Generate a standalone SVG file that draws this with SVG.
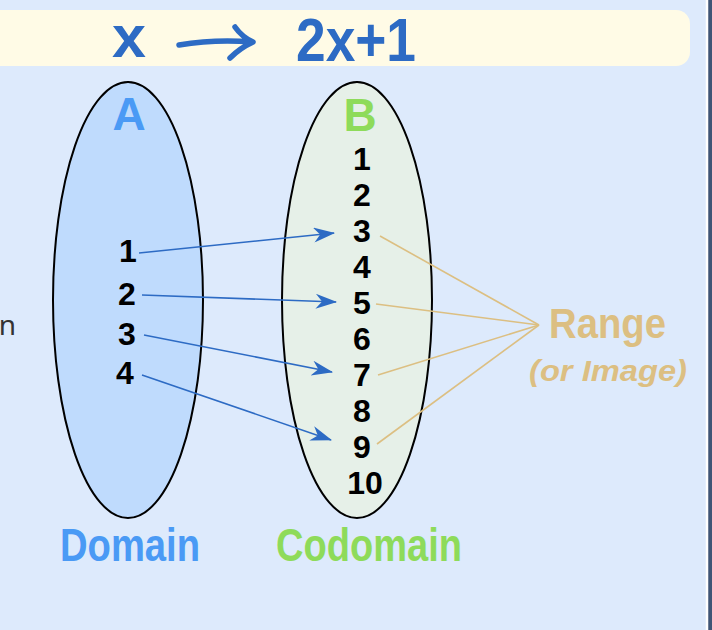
<svg xmlns="http://www.w3.org/2000/svg" width="712" height="630" viewBox="0 0 712 630">
<defs>
<style>
.t{font-family:"Liberation Sans","Noto Sans",sans-serif;font-weight:bold;}
.num{font-family:"Liberation Sans","Noto Sans",sans-serif;font-weight:bold;font-size:32px;fill:#000;text-anchor:middle;}
.arr{stroke:#2d6bc4;stroke-width:1.6;fill:none;marker-end:url(#ah);}
.rng{stroke:#dcbf82;stroke-width:1.6;fill:none;}
</style>
<marker id="ah" viewBox="0 0 20 14" refX="19" refY="7" markerWidth="22" markerHeight="15" markerUnits="userSpaceOnUse" orient="auto">
<path d="M0,0 L20,7 L0,14 L6,7 Z" fill="#2d6bc4"/>
</marker>
</defs>
<rect x="0" y="0" width="712" height="630" fill="#3f5576"/>
<rect x="-20" y="-12" width="727" height="660" rx="12" fill="#ddeafc" stroke="#ffffff" stroke-width="2.5"/>
<g id="banner">
<rect x="-20" y="10" width="710" height="56" rx="14" fill="#fffbe6"/>
<text class="t" x="112" y="57" font-size="60" fill="#2d6bc4" textLength="34" lengthAdjust="spacingAndGlyphs">x</text>
<path d="M179,45 Q215,39 252,42 M235,27 Q242,37 253,42 Q240,48 230,58" stroke="#2d6bc4" stroke-width="5.5" fill="none" stroke-linecap="round" stroke-linejoin="round"/>
<text class="t" x="296" y="61" font-size="62" fill="#2d6bc4" textLength="120" lengthAdjust="spacingAndGlyphs">2x+1</text>
</g>
<text x="16" y="335" font-family="'Noto Sans','DejaVu Sans',sans-serif" font-size="28" fill="#333" text-anchor="end">n</text>
<g id="setA">
<ellipse cx="128" cy="300" rx="75" ry="218" fill="#bfdbfd" stroke="#000" stroke-width="2"/>
<text class="t" x="129" y="130" font-size="46" fill="#4a9af5" text-anchor="middle">A</text>
<text class="num" x="128" y="262">1</text>
<text class="num" x="127" y="305">2</text>
<text class="num" x="127" y="345">3</text>
<text class="num" x="125" y="384">4</text>
</g>
<g id="setB">
<ellipse cx="357" cy="300" rx="75" ry="218" fill="#e6f0e8" stroke="#000" stroke-width="2"/>
<text class="t" x="360" y="131" font-size="46" fill="#8edb5a" text-anchor="middle">B</text>
<text class="num" x="362" y="170">1</text>
<text class="num" x="362" y="206">2</text>
<text class="num" x="362" y="242">3</text>
<text class="num" x="362" y="278">4</text>
<text class="num" x="362" y="314">5</text>
<text class="num" x="362" y="350">6</text>
<text class="num" x="362" y="386">7</text>
<text class="num" x="362" y="422">8</text>
<text class="num" x="362" y="458">9</text>
<text class="num" x="365" y="494">10</text>
</g>
<g id="connectors">
<line class="arr" x1="139" y1="253" x2="334" y2="233"/>
<line class="arr" x1="142" y1="295" x2="336" y2="302"/>
<line class="arr" x1="144" y1="335" x2="332" y2="372"/>
<line class="arr" x1="142" y1="375" x2="331" y2="440"/>
<line class="rng" x1="539" y1="325" x2="380" y2="236"/>
<line class="rng" x1="539" y1="325" x2="376" y2="304"/>
<line class="rng" x1="539" y1="325" x2="378" y2="375"/>
<line class="rng" x1="539" y1="325" x2="377" y2="444"/>
</g>
<g id="range">
<text class="t" x="549" y="338" font-size="42" fill="#dcbf82" textLength="117" lengthAdjust="spacingAndGlyphs">Range</text>
<text class="t" x="529" y="381" font-size="29" font-style="italic" fill="#dcbf82" textLength="158" lengthAdjust="spacingAndGlyphs">(or Image)</text>
</g>
<g id="labels">
<text class="t" x="60" y="561" font-size="46" fill="#4a9af5" textLength="140" lengthAdjust="spacingAndGlyphs">Domain</text>
<text class="t" x="276" y="561" font-size="46" fill="#8edb5a" textLength="186" lengthAdjust="spacingAndGlyphs">Codomain</text>
</g>
</svg>
